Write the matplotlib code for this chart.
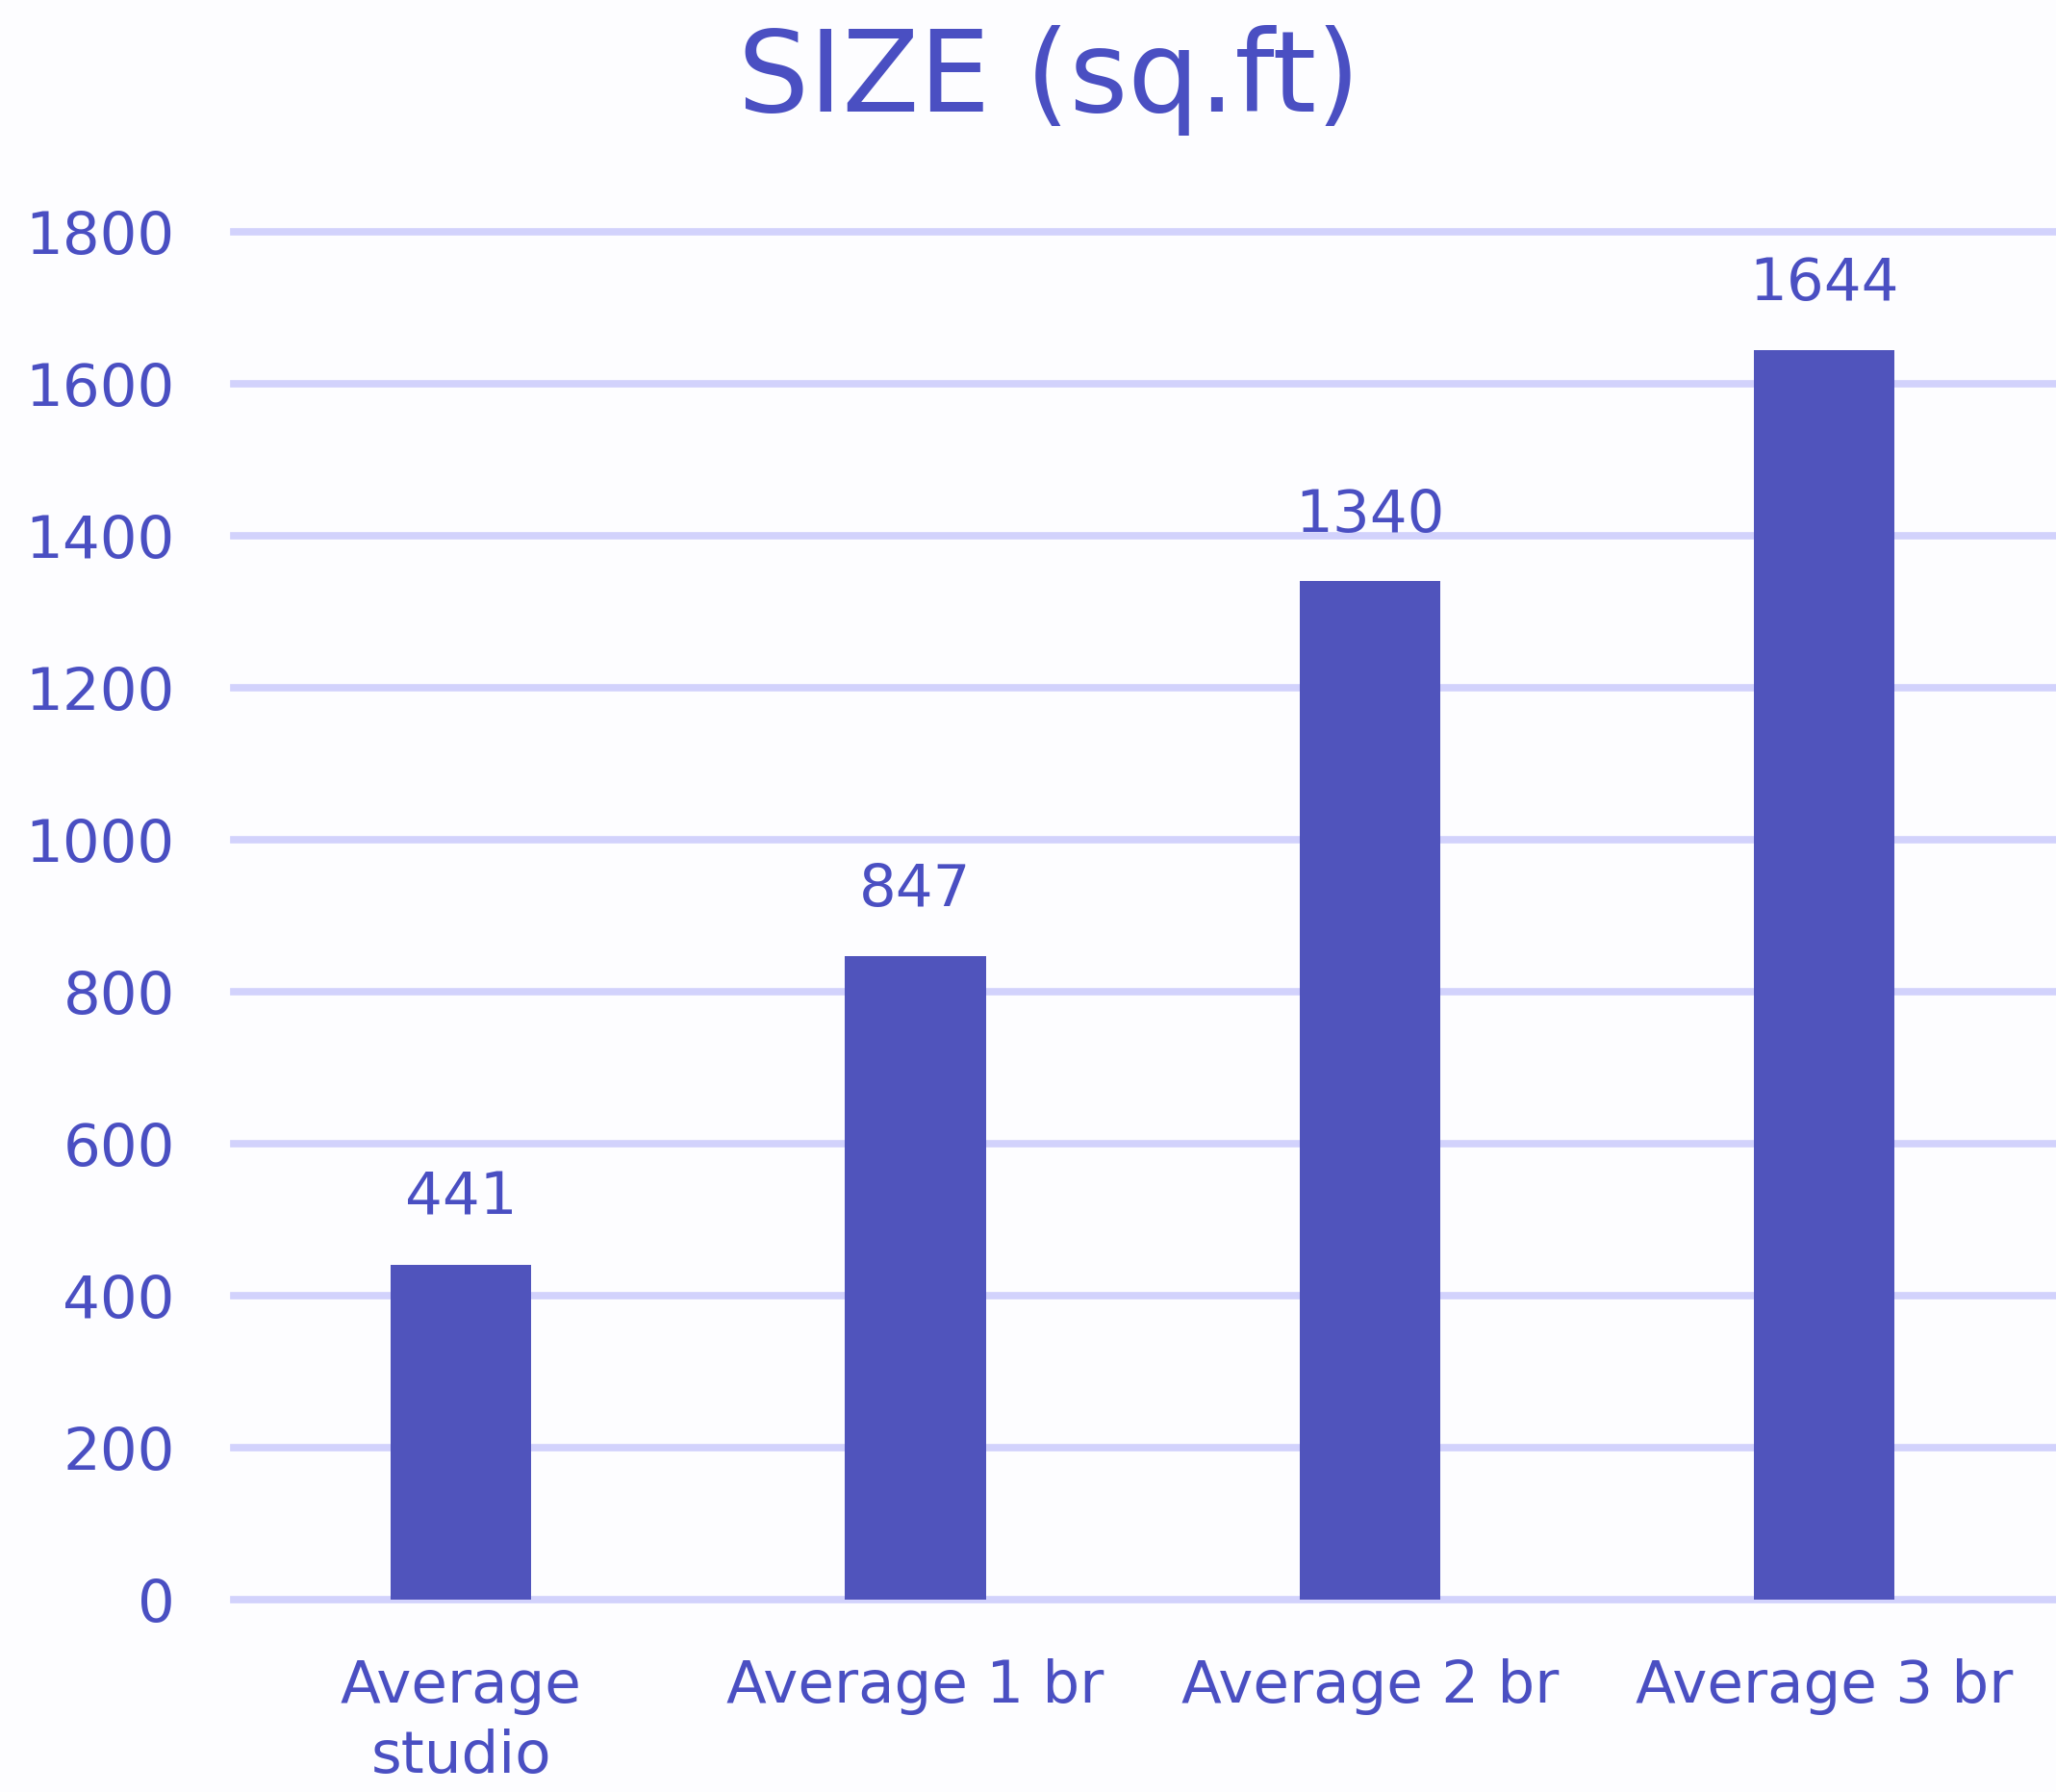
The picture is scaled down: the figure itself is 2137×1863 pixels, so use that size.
import numpy as np
import matplotlib
matplotlib.use("Agg")
import matplotlib.pyplot as plt

# データ
categories = ["Average\nstudio", "Average 1 br", "Average 2 br", "Average 3 br"]
sizes = [441, 847, 1340, 1644]
yticks = [0, 200, 400, 600, 800, 1000, 1200, 1400, 1600, 1800]

bar_color = "#5054BC"
text_color = "#4A4FC2"
grid_color = "#D2D2FC"
bg_color = "#FDFDFF"

plt.rcParams['font.family'] = ['DejaVu Sans']

fig = plt.figure(figsize=(21.37, 18.63), dpi=100, facecolor=bg_color)
ax = fig.add_axes([0.1137, 0.1074, 0.8863, 0.7632])
ax.set_facecolor(bg_color)

x = np.arange(len(categories))
ax.bar(x, sizes, width=0.31, color=bar_color, zorder=3)

# 値ラベル
for xi, v in zip(x, sizes):
    ax.annotate(str(v), (xi, v), xytext=(0, 28), textcoords="offset points",
                ha="center", va="bottom", fontsize=44, color=text_color)

ax.set_xlim(-0.5, 3.51)
ax.set_ylim(0, 1800)
ax.set_yticks(yticks)
ax.set_yticklabels([str(t) for t in yticks], fontsize=44, color=text_color)
ax.set_xticks(x)
ax.set_xticklabels(categories, fontsize=44, color=text_color, linespacing=1.3, va="top")
ax.tick_params(axis="y", length=0, pad=44)
ax.tick_params(axis="x", length=0, pad=44)

ax.yaxis.grid(True, color=grid_color, linewidth=5.5, zorder=0)
ax.set_axisbelow(True)
for s in ax.spines.values():
    s.set_visible(False)
for gl in ax.get_ygridlines():
    gl.set_clip_on(False)

fig.text(0.51, 0.938, "SIZE (sq.ft)", ha="center", va="baseline",
         fontsize=84, color=text_color)

fig.savefig("out.png", dpi=100, facecolor=bg_color)
